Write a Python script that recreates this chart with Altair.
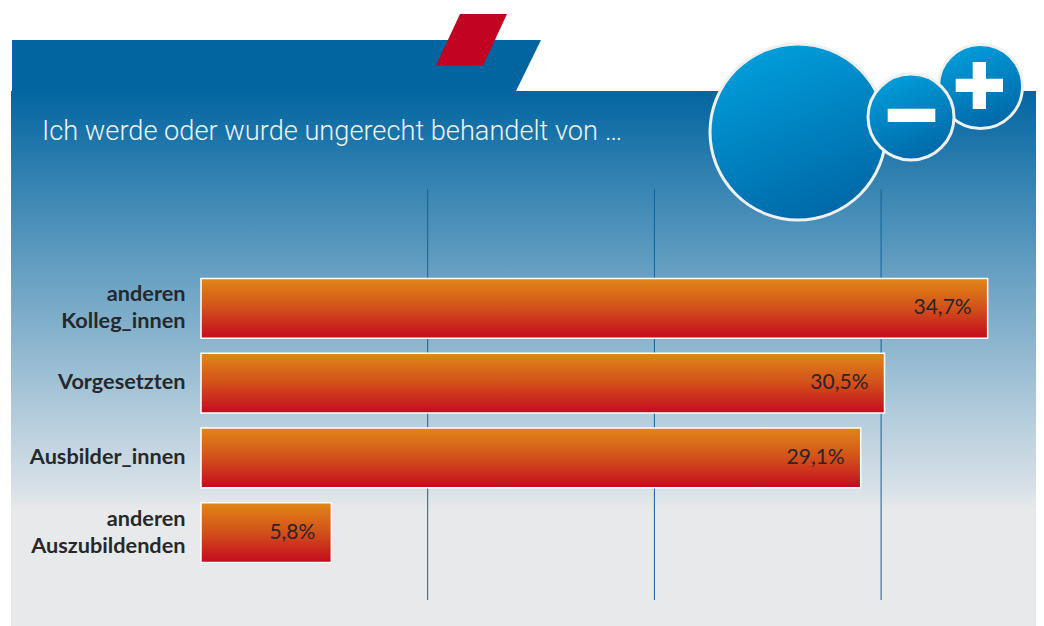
import altair as alt
import pandas as pd

categories = ["anderen\nKolleg_innen", "Vorgesetzten", "Ausbilder_innen", "anderen\nAuszubildenden"]
bar_lengths = [34.7, 30.15, 29.1, 5.75]
value_labels = ["34,7%", "30,5%", "29,1%", "5,8%"]
grid_values = [10, 20, 30]
title_text = "Ich werde oder wurde ungerecht behandelt von …"

W, H = 1028, 618
OX, OY = 8, 8
UNIT = 22.67
ZERO = 201 - OX
FONT = "Lato"
x_scale = alt.Scale(domain=[-ZERO / UNIT, (W - ZERO) / UNIT], range=[0, W], nice=False, zero=False)
y_scale = alt.Scale(domain=categories, range=[278.5 - OY, 562.5 - OY], paddingInner=0.2, paddingOuter=0)

def grad(stops, x1=0, y1=0, x2=0, y2=1):
    return alt.Gradient(gradient="linear", x1=x1, y1=y1, x2=x2, y2=y2,
                        stops=[alt.GradientStop(offset=o, color=c) for o, c in stops])

one = pd.DataFrame({"a": [0]})
df = pd.DataFrame({"cat": categories, "v": bar_lengths, "lab": value_labels})
df["two"] = df["cat"].str.contains("\n")
ticks = pd.DataFrame({"t": grid_values})

def rect(x0, x1, y0, y1, **kw):
    return alt.Chart(one).mark_rect(**kw).encode(
        x=alt.value(x0 - OX), x2=alt.value(x1 - OX), y=alt.value(y0 - OY), y2=alt.value(y1 - OY))

def poly(points, fill):
    path = "M" + "L".join(f"{x - OX} {y - OY}" for x, y in points) + "Z"
    return alt.Chart(one).mark_point(shape=path, filled=True, fill=fill, size=4, opacity=1, strokeWidth=0).encode(
        x=alt.value(0), y=alt.value(0))

BLUE = grad([(0, "#009edb"), (1, "#0066a5")], x1=0.3, y1=0, x2=0.7, y2=1)

def circle(cx, cy, r):
    return alt.Chart(one).mark_point(shape="circle", filled=True, fill=BLUE, stroke="#eff0f2", strokeWidth=3,
                                     size=(2 * r) ** 2, opacity=1).encode(
        x=alt.value(cx - OX), y=alt.value(cy - OY))

panel = rect(11, 1036, 91, 626, fill=grad([
    (0, "#0265a0"), (0.335, "#659fc2"), (0.615, "#b5cddc"), (0.745, "#d8e1e8"), (0.78, "#e7e9eb"), (1, "#e7e9eb")]))
tab = poly([(12, 40), (541, 40), (516, 91), (12, 91)], "#0265a0")
red = poly([(460, 14), (507, 14), (483, 65.5), (436, 65.5)], "#c20322")

grid = alt.Chart(ticks).mark_rule(color="#0f6399", strokeWidth=1).encode(
    x=alt.X("t:Q", scale=x_scale, axis=None), y=alt.value(189 - OY), y2=alt.value(600 - OY))

bars = alt.Chart(df).mark_bar(
    fill=grad([(0, "#e08717"), (0.5, "#d2501b"), (1, "#c40a1f")]), stroke="#ffffff", strokeWidth=1.5, opacity=1
).encode(
    x=alt.X("v:Q", scale=x_scale, axis=None),
    y=alt.Y("cat:N", scale=y_scale, axis=None),
)

values = alt.Chart(df).mark_text(align="right", baseline="middle", dx=-16, dy=0, font=FONT, fontSize=21,
                                 color="#2b2423").encode(
    x=alt.X("v:Q", scale=x_scale, axis=None),
    y=alt.Y("cat:N", scale=y_scale, axis=None),
    text="lab:N",
)

def names(subset, dy):
    return alt.Chart(subset).mark_text(align="right", baseline="middle", dy=dy, font=FONT, fontSize=21.7,
                                       fontWeight="bold", color="#26282b", lineBreak="\n", lineHeight=27).encode(
        x=alt.value(185.5 - OX),
        y=alt.Y("cat:N", scale=y_scale, axis=None),
        text="cat:N",
    )

title = alt.Chart(pd.DataFrame({"t": [title_text]})).mark_text(
    align="left", baseline="alphabetic", font="Roboto", fontSize=27.2, fontWeight=300, color="#eef4f8").encode(
    x=alt.value(42 - OX), y=alt.value(140 - OY), text="t:N")

chart = alt.layer(
    panel, tab, red, grid, bars, values, names(df[~df["two"]], -1), names(df[df["two"]], -14), title,
    circle(798, 132, 88),
    circle(980.5, 86.5, 42),
    circle(911, 117, 43),
    rect(887.7, 935.3, 108.7, 122, fill="#ffffff"),
    rect(955.7, 1003, 78.7, 92, fill="#ffffff"),
    rect(972.7, 986, 62, 109, fill="#ffffff"),
).resolve_scale(x="shared", y="shared").properties(
    width=W, height=H, padding=0, background="#ffffff",
    autosize=alt.AutoSizeParams(type="none", contains="padding"),
).configure_view(stroke=None)

chart.save("out.html", embed_options={"renderer": "svg", "actions": False})
